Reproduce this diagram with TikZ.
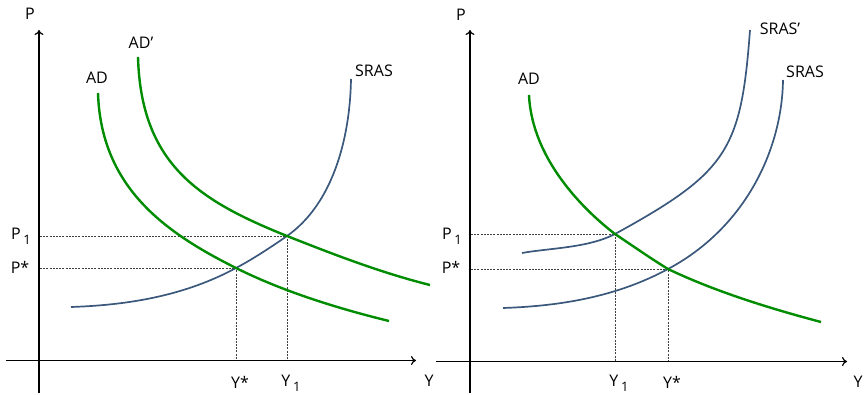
\documentclass[tikz,border=0pt]{standalone}
\usepackage{fontspec}
\setmainfont{Open Sans}
\usetikzlibrary{arrows.meta}
\definecolor{adgreen}{RGB}{0,140,0}
\definecolor{asblue}{RGB}{58,88,124}
\newcommand{\sub}[1]{\,\raisebox{-0.55ex}{\fontsize{13}{13}\selectfont #1}}
\begin{document}
\begin{tikzpicture}[x=1pt,y=-1pt,
  axis/.style={line width=1.8pt,-{To[length=5pt,width=9pt,line width=1.2pt]}},
  adcurve/.style={adgreen,line width=2.4pt},
  ascurve/.style={asblue,line width=1.7pt},
  guide/.style={black!75,line width=0.8pt,dash pattern=on 2pt off 1.2pt},
  lbl/.style={font=\fontsize{16}{18}\selectfont,inner sep=0pt}]
\useasboundingbox (0,0) rectangle (864,395);
% ---------- left panel ----------
\coordinate (lo1) at (39,393);
\coordinate (ltop) at (39,30);
\coordinate (lx0) at (6,360.5);
\coordinate (lxend) at (416,360.5);
\draw[axis] (lo1) -- (ltop);
\draw[axis] (lx0) -- (lxend);
\coordinate (Estar) at (236,268);
\coordinate (E1) at (287,236);
\coordinate (LP1) at (40,236);
\coordinate (LPs) at (40,268);
\coordinate (LY1) at (287,360);
\coordinate (LYs) at (236,360);
\draw[guide] (LP1) -- (E1) -- (LY1);
\draw[guide] (LPs) -- (Estar) -- (LYs);
% SRAS
\draw[ascurve] (71,307) .. controls (131,305) and (186,295) .. (Estar)
  .. controls (253,259) and (272,246.5) .. (E1)
  .. controls (332,204.5) and (350,140) .. (351,79);
% AD
\draw[adcurve] (98,93) .. controls (101,188) and (166,233) .. (Estar)
  .. controls (284,292) and (340,309) .. (389,321);
% AD'
\draw[adcurve] (138,57) .. controls (141,165) and (200,201) .. (E1)
  .. controls (335,255) and (382,273) .. (430,285);
\node[lbl] (lP) at (30,14) {P};
\node[lbl] (lADp) at (141,43) {AD’};
\node[lbl] (lAD) at (97,78) {AD};
\node[lbl] (lSRAS) at (374,71) {SRAS};
\node[lbl] (lP1) at (21,236) {P\sub{1}};
\node[lbl] (lPs) at (20,267) {P*};
\node[lbl] (lYs) at (240,382) {Y*};
\node[lbl] (lY1) at (291,383) {Y\sub{1}};
\node[lbl] (lY) at (429,381) {Y};
% ---------- right panel ----------
\coordinate (ro1) at (470,393);
\coordinate (rtop) at (470,30);
\coordinate (rx0) at (436,361.5);
\coordinate (rxend) at (847,361.5);
\draw[axis] (ro1) -- (rtop);
\draw[axis] (rx0) -- (rxend);
\coordinate (RE1) at (615,234);
\coordinate (REs) at (668,269);
\coordinate (RP1) at (471,234);
\coordinate (RPs) at (471,269);
\coordinate (RY1) at (615,361);
\coordinate (RYs) at (668,361);
\draw[guide] (RP1) -- (RE1) -- (RY1);
\draw[guide] (RPs) -- (REs) -- (RYs);
% SRAS
\draw[ascurve] (503,308) .. controls (563,306) and (618,296) .. (REs)
  .. controls (745,228) and (782,150) .. (783,80);
% SRAS'
\draw[ascurve] (522,253) .. controls (550,248) and (588,248) .. (RE1)
  .. controls (728,172) and (741,150) .. (750,30);
% AD
\draw[adcurve] (529,95) .. controls (532,160) and (585,211) .. (RE1)
  .. controls (633,246) and (650,258) .. (REs)
  .. controls (716,292) and (772,309) .. (821,322);
\node[lbl] (rP) at (461,15) {P};
\node[lbl] (rAD) at (529,79) {AD};
\node[lbl] (rSRASp) at (780,29) {SRAS’};
\node[lbl] (rSRAS) at (805,72) {SRAS};
\node[lbl] (rP1) at (452,236) {P\sub{1}};
\node[lbl] (rPs) at (451,267) {P*};
\node[lbl] (rY1) at (619,383) {Y\sub{1}};
\node[lbl] (rYs) at (672,382) {Y*};
\node[lbl] (rY) at (858,382) {Y};
\end{tikzpicture}
\end{document}
